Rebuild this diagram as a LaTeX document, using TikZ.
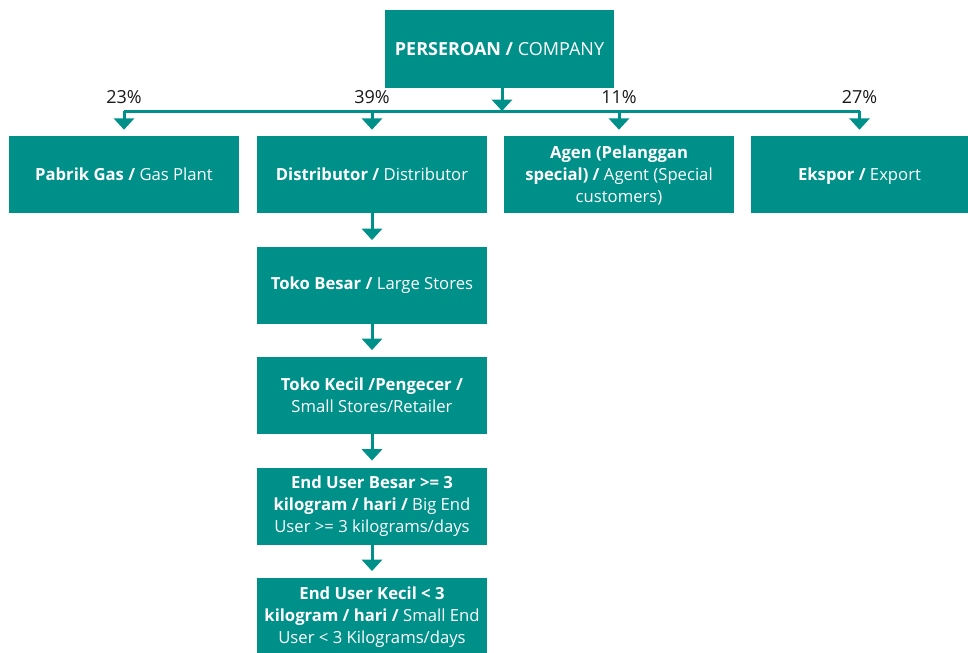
\documentclass[tikz,border=0pt]{standalone}
\usepackage{fontspec}
\setmainfont{Open Sans}
\usetikzlibrary{arrows.meta}
\definecolor{boxteal}{RGB}{0,144,138}
\begin{document}
\begin{tikzpicture}[x=0.75pt,y=-0.75pt,
  box/.style={fill=boxteal,text=white,minimum width=172.5pt,minimum height=57.75pt,
    align=center,inner sep=2pt,font=\fontsize{12.5}{16.5}\selectfont},
  pct/.style={font=\fontsize{13.5}{15}\selectfont,text=black!90},
  arr/.style={boxteal,line width=2.25pt,-{Triangle[width=15pt,length=8.5pt]}}]
\useasboundingbox (0,0) rectangle (968,653);
\clip (0,0) rectangle (968,653);
% boxes
\node[box,minimum width=171.75pt,minimum height=58.5pt,font=\fontsize{13.5}{16.5}\selectfont] (company) at (499.5,49) {\textbf{PERSEROAN /} COMPANY};
\node[box] (pabrik) at (124,174.5) {\textbf{Pabrik Gas /} Gas Plant};
\node[box] (distributor) at (372,174.5) {\textbf{Distributor /} Distributor};
\node[box,text depth=0pt] (agen) at (619,174.5) {\textbf{Agen (Pelanggan}\\\textbf{special) /} Agent (Special\\customers)};
\node[box,minimum width=162.75pt,text depth=1pt] (ekspor) at (859.5,174.5) {\textbf{Ekspor /} Export};
\node[box] (besar) at (372,285.5) {\textbf{Toko Besar /} Large Stores};
\node[box] (kecil) at (372,395.5) {\textbf{Toko Kecil /Pengecer /}\\Small Stores/Retailer};
\node[box] (eubesar) at (372,506) {\textbf{End User Besar >= 3}\\\textbf{kilogram / hari /} Big End\\User >= 3 kilograms/days};
\node[box,minimum height=58.5pt] (eukecil) at (372,617) {\textbf{End User Kecil < 3}\\\textbf{kilogram / hari /} Small End\\User < 3 Kilograms/days};
% split line
\coordinate (bar) at (502,111);
\draw[arr] (company.south -| bar) -- (bar);
\draw[boxteal,line width=2.25pt] (pabrik.north |- bar) -- (ekspor.north |- bar);
\foreach \n/\p in {pabrik/23,distributor/39,agen/11,ekspor/27}{
  \draw[arr,shorten >=4.5pt] (\n.north |- bar) -- (\n.north);
  \path (\n.north |- bar) ++(0,-14) node[pct] (p\n) {\p\%};
}
% distributor chain
\foreach \a/\b in {distributor/besar,besar/kecil,kecil/eubesar,eubesar/eukecil}
  \draw[arr,shorten >=5pt] (\a) -- (\b);
\end{tikzpicture}
\end{document}
